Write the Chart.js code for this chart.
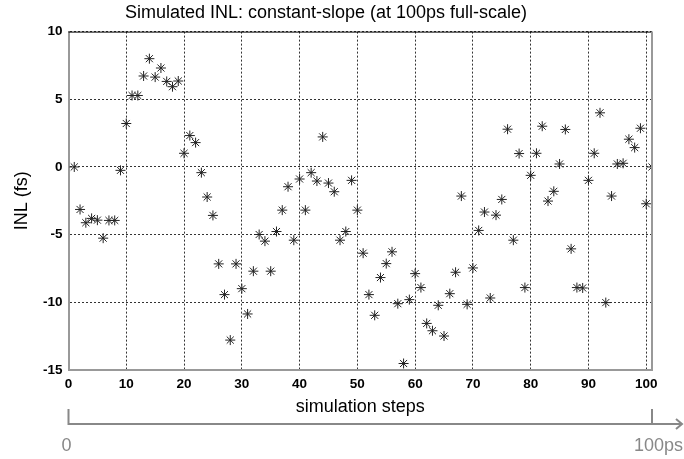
<!DOCTYPE html>
<html>
<head>
<meta charset="utf-8">
<script src="https://cdn.jsdelivr.net/npm/chart.js@4.4.1/dist/chart.umd.min.js"></script>
<style>
	html, body { margin: 0; padding: 0; background: #fff; }
	#wrap { width: 684px; height: 459px; }
</style>
</head>
<body>
<div id="wrap"><canvas id="chart" width="684" height="459"></canvas></div>
<script>
// INL per simulation step (fs), steps 1..101
const steps = Array.from({ length: 101 }, (_, i) => i + 1);
const inl = [
	0, -3.14, -4.12, -3.8, -3.93, -5.26, -3.95, -3.95, -0.25, 3.21,
	5.28, 5.28, 6.72, 8.0, 6.64, 7.31, 6.32, 5.93, 6.35, 1.01,
	2.32, 1.8, -0.42, -2.22, -3.58, -7.16, -9.43, -12.79, -7.16, -8.99,
	-10.86, -7.7, -4.99, -5.48, -7.7, -4.77, -3.19, -1.46, -5.41, -0.89,
	-3.19, -0.42, -1.04, 2.22, -1.19, -1.83, -5.41, -4.77, -0.99, -3.19,
	-6.37, -9.43, -10.96, -8.17, -7.14, -6.27, -10.1, -14.52, -9.8, -7.88,
	-8.91, -11.56, -12.1, -10.22, -12.49, -9.36, -7.78, -2.15, -10.15, -7.46,
	-4.69, -3.33, -9.68, -3.56, -2.4, 2.79, -5.41, 0.99, -8.91, -0.62,
	1.01, 3.01, -2.52, -1.8, 0.22, 2.77, -6.05, -8.91, -8.94, -0.99,
	1.01, 4.0, -10.02, -2.15, 0.22, 0.27, 2.05, 1.43, 2.86, -2.72,
	0
];
const xTicks = [0, 10, 20, 30, 40, 50, 60, 70, 80, 90, 100];
const yTicks = [-15, -10, -5, 0, 5, 10];
const timeLabels = ["0", "100ps"];

const FONT = "'Liberation Sans', Arial, sans-serif";

// box around the plot + the time arrow under the x axis
const extras = {
	id: "extras",
	afterDraw(chart) {
		const { ctx, chartArea: a } = chart;
		ctx.save();
		// frame
		ctx.strokeStyle = "#000";
		ctx.lineWidth = 1;
		ctx.beginPath();
		ctx.moveTo(a.left, a.top + 0.5);
		ctx.lineTo(a.right, a.top + 0.5);
		ctx.stroke();
		ctx.strokeStyle = "#999";
		ctx.lineWidth = 2;
		ctx.beginPath();
		ctx.moveTo(a.right, a.top);
		ctx.lineTo(a.right, a.bottom);
		ctx.stroke();

		// time arrow
		const y = 424;
		const x0 = a.left;
		const x1 = a.right;
		const tip = chart.width - 2;
		ctx.strokeStyle = "#888";
		ctx.lineWidth = 2;
		ctx.beginPath();
		ctx.moveTo(x0, y - 15);
		ctx.lineTo(x0, y);
		ctx.lineTo(tip, y);
		ctx.moveTo(x1, y - 15);
		ctx.lineTo(x1, y);
		ctx.moveTo(tip - 6, y - 5);
		ctx.lineTo(tip, y);
		ctx.lineTo(tip - 6, y + 5);
		ctx.stroke();

		ctx.fillStyle = "#888";
		ctx.font = "18px " + FONT;
		ctx.textBaseline = "middle";
		ctx.textAlign = "center";
		ctx.fillText(timeLabels[0], x0 - 2, y + 22);
		ctx.textAlign = "right";
		ctx.fillText(timeLabels[1], chart.width - 1, y + 22);
		ctx.restore();
	},
};

const ctx = document.getElementById("chart").getContext("2d");
new Chart(ctx, {
	type: "scatter",
	data: {
		datasets: [
			{
				data: steps.map((s, i) => ({ x: s, y: inl[i] })),
				pointStyle: "star",
				pointRadius: 5,
				borderColor: "#222",
				backgroundColor: "#222",
				borderWidth: 1,
			},
		],
	},
	options: {
		responsive: false,
		animation: false,
		layout: { padding: { left: 0, right: 32, top: 0, bottom: 41 } },
		plugins: {
			legend: { display: false },
			tooltip: { enabled: false },
			title: {
				display: true,
				text: "Simulated INL: constant-slope (at 100ps full-scale)",
				color: "#000",
				font: { family: FONT, size: 18, weight: "normal" },
				padding: { top: 2, bottom: 8 },
			},
		},
		scales: {
			x: {
				type: "linear",
				min: 0,
				max: 101,
				afterBuildTicks: (s) => {
					s.ticks = xTicks.map((v) => ({ value: v }));
				},
				afterFit: (s) => {
					s.height = 48;
				},
				ticks: {
					color: "#000",
					padding: 6,
					font: { family: FONT, size: 13.5, weight: "bold" },
				},
				grid: {
					color: "#333",
					drawTicks: false,
				},
				border: { color: "#999", width: 2, dash: [2, 2] },
				title: {
					display: true,
					text: "simulation steps",
					color: "#000",
					font: { family: FONT, size: 18 },
					padding: { top: 0, bottom: 0 },
				},
			},
			y: {
				type: "linear",
				min: -15,
				max: 10,
				afterBuildTicks: (s) => {
					s.ticks = yTicks.map((v) => ({ value: v }));
				},
				afterFit: (s) => {
					s.width = 68.5;
				},
				ticks: {
					color: "#000",
					padding: 6,
					font: { family: FONT, size: 13.5, weight: "bold" },
				},
				grid: {
					color: "#333",
					drawTicks: false,
				},
				border: { color: "#999", width: 2, dash: [2, 2] },
				title: {
					display: true,
					text: "INL (fs)",
					color: "#000",
					font: { family: FONT, size: 18 },
					padding: { top: 11, bottom: 0 },
				},
			},
		},
	},
	plugins: [extras],
});
</script>
</body>
</html>
